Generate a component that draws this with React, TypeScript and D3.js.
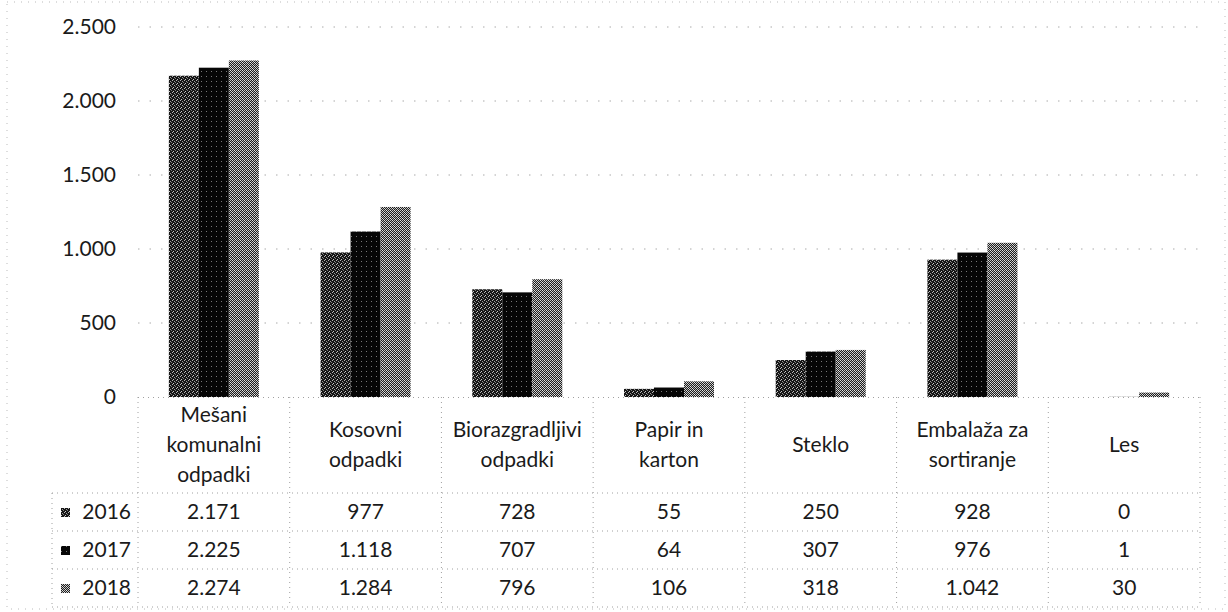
import React from "react";
import * as d3 from "d3";

const categories: string[][] = [
  ["Mešani", "komunalni", "odpadki"],
  ["Kosovni", "odpadki"],
  ["Biorazgradljivi", "odpadki"],
  ["Papir in", "karton"],
  ["Steklo"],
  ["Embalaža za", "sortiranje"],
  ["Les"],
];
const seriesNames = ["2016", "2017", "2018"];
const values2016 = [2171, 977, 728, 55, 250, 928, 0];
const values2017 = [2225, 1118, 707, 64, 307, 976, 1];
const values2018 = [2274, 1284, 796, 106, 318, 1042, 30];
const tickValues = [0, 500, 1000, 1500, 2000, 2500];
const tickLabels = ["0", "500", "1.000", "1.500", "2.000", "2.500"];

const series = [values2016, values2017, values2018];
const fmt = (v: number) => d3.format(",")(v).replace(/,/g, ".");

export default function App() {
  const W = 1228, H = 612;
  const plotLeft = 138, plotRight = 1200, baseY = 397, topY = 27;
  const headerBottom = 493, rowH = 38;
  const legendLeft = 52;
  const font = "Lato, 'Noto Sans', sans-serif";
  const textFill = "#1a1a1a";

  const x = d3.scaleBand<number>().domain(d3.range(categories.length)).range([plotLeft, plotRight]).padding(0);
  const y = d3.scaleLinear().domain([0, 2500]).range([baseY, topY]);
  const groupW = 90;
  const inner = d3.scaleBand<number>().domain([0, 1, 2]).range([0, groupW]).padding(0);

  const dot = "#a0a0a0";
  const dash = "1 4";

  return (
    <svg width={W} height={H} style={{ position: "absolute", left: 0, top: 0, display: "block", background: "#fff" }}>
      <defs>
        <pattern id="p0" width={4} height={4} patternUnits="userSpaceOnUse">
          <rect width={4} height={4} fill="#151515" />
          <rect x={0} y={0} width={1} height={1} fill="#b5b5b5" />
          <rect x={2} y={1} width={1} height={1} fill="#9a9a9a" />
          <rect x={1} y={3} width={1} height={1} fill="#c8c8c8" />
          <rect x={3} y={2} width={1} height={1} fill="#7a7a7a" />
        </pattern>
        <pattern id="p1" width={5} height={5} patternUnits="userSpaceOnUse">
          <rect width={5} height={5} fill="#060606" />
          <rect x={1} y={1} width={1} height={1} fill="#777" />
        </pattern>
        <pattern id="p2" width={4} height={4} patternUnits="userSpaceOnUse">
          <rect width={4} height={4} fill="#1e1e1e" />
          <rect x={0} y={0} width={1} height={1} fill="#e0e0e0" />
          <rect x={2} y={0} width={1} height={1} fill="#bdbdbd" />
          <rect x={1} y={1} width={1} height={1} fill="#d0d0d0" />
          <rect x={3} y={1} width={1} height={1} fill="#a8a8a8" />
          <rect x={0} y={2} width={1} height={1} fill="#c4c4c4" />
          <rect x={2} y={2} width={1} height={1} fill="#e8e8e8" />
          <rect x={1} y={3} width={1} height={1} fill="#b0b0b0" />
          <rect x={3} y={3} width={1} height={1} fill="#d8d8d8" />
        </pattern>
      </defs>

      {/* outer border */}
      <rect x={7} y={2} width={1218} height={607} fill="none" stroke="#bbb" strokeWidth={1} strokeDasharray="1 6" />

      {/* gridlines */}
      {tickValues.slice(1).map((t) => (
        <line key={t} x1={plotLeft} x2={plotRight} y1={y(t)} y2={y(t)} stroke="#aaa" strokeWidth={1} strokeDasharray="1.5 10" />
      ))}

      {/* y tick labels */}
      {tickValues.map((t, i) => (
        <text key={t} x={116} y={y(t)} dy="0.35em" textAnchor="end" fontFamily={font} fontSize={21} fill={textFill}>
          {tickLabels[i]}
        </text>
      ))}

      {/* bars */}
      {series.map((vals, s) =>
        vals.map((v, c) => {
          const cx = (x(c) as number) + x.bandwidth() / 2 - groupW / 2 + (inner(s) as number);
          const h = baseY - y(v);
          if (h <= 0) return null;
          return (
            <rect key={`${s}-${c}`} x={cx} y={y(v)} width={inner.bandwidth()} height={h} fill={`url(#p${s})`} />
          );
        })
      )}

      {/* table horizontal lines */}
      <line x1={plotLeft} x2={plotRight} y1={baseY + 0.5} y2={baseY + 0.5} stroke={dot} strokeDasharray={dash} />
      {[0, 1, 2, 3].map((r) => (
        <line key={r} x1={legendLeft} x2={plotRight} y1={headerBottom + r * rowH} y2={headerBottom + r * rowH} stroke={dot} strokeDasharray={dash} />
      ))}
      {/* vertical lines */}
      <line x1={legendLeft} x2={legendLeft} y1={headerBottom} y2={headerBottom + 3 * rowH} stroke={dot} strokeDasharray={dash} />
      {d3.range(categories.length + 1).map((i) => {
        const xx = i < categories.length ? (x(i) as number) : plotRight;
        return <line key={i} x1={xx} x2={xx} y1={baseY} y2={headerBottom + 3 * rowH} stroke={dot} strokeDasharray={dash} />;
      })}

      {/* header labels */}
      {categories.map((lines, c) => {
        const cx = (x(c) as number) + x.bandwidth() / 2;
        const mid = (baseY + headerBottom) / 2;
        const lh = 30;
        return lines.map((ln, k) => (
          <text key={`${c}-${k}`} x={cx} y={mid + (k - (lines.length - 1) / 2) * lh} dy="0.35em" textAnchor="middle" fontFamily={font} fontSize={21} fill={textFill}>
            {ln}
          </text>
        ));
      })}

      {/* rows */}
      {series.map((vals, s) => {
        const cy = headerBottom + s * rowH + rowH / 2;
        return (
          <g key={s}>
            <rect x={61} y={cy - 4} width={9} height={9} fill={`url(#p${s})`} />
            <text x={131} y={cy} dy="0.35em" textAnchor="end" fontFamily={font} fontSize={21} fill={textFill}>
              {seriesNames[s]}
            </text>
            {vals.map((v, c) => (
              <text key={c} x={(x(c) as number) + x.bandwidth() / 2} y={cy} dy="0.35em" textAnchor="middle" fontFamily={font} fontSize={21} fill={textFill}>
                {fmt(v)}
              </text>
            ))}
          </g>
        );
      })}
    </svg>
  );
}
